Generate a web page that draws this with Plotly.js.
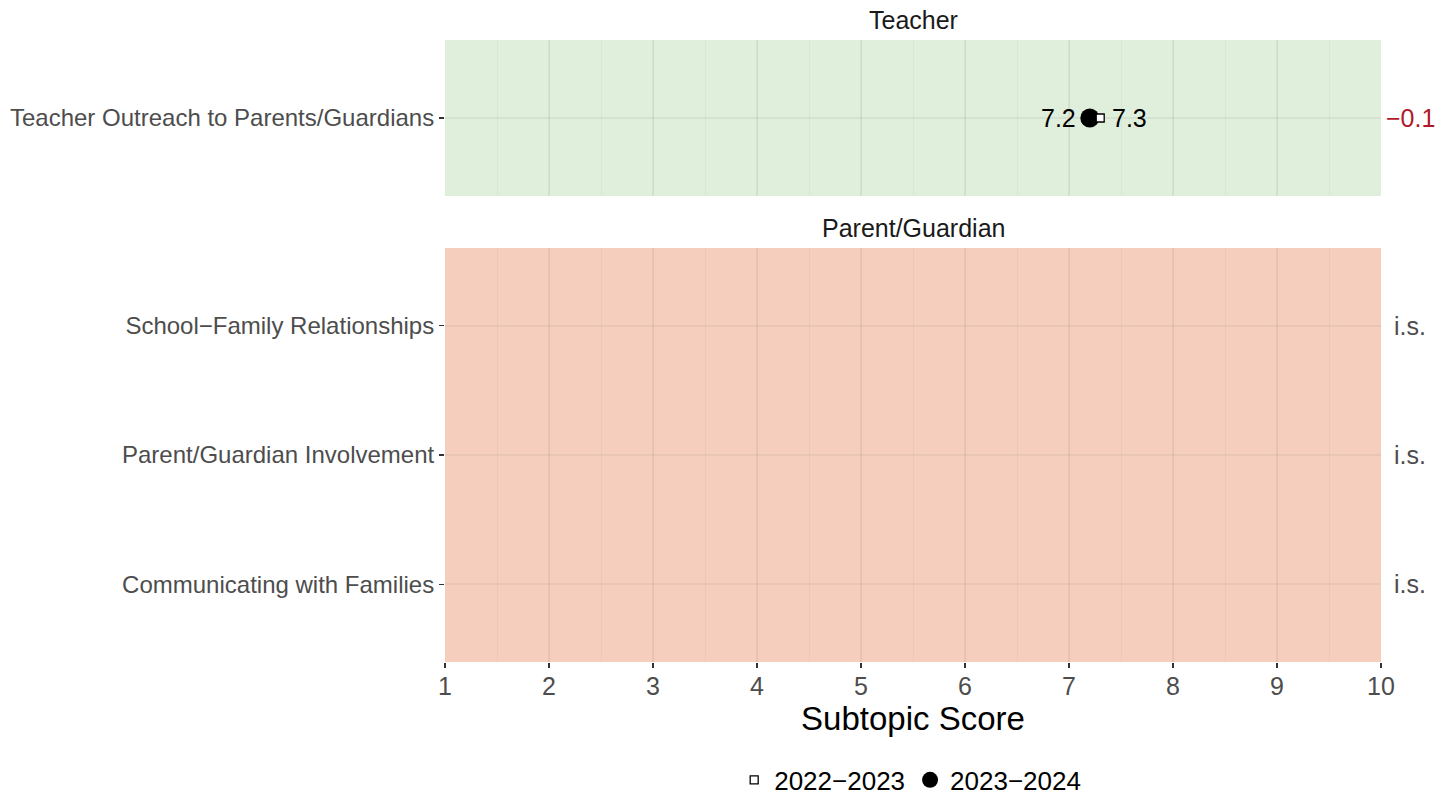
<!DOCTYPE html>
<html>
<head>
<meta charset="utf-8">
<script src="https://cdn.plot.ly/plotly-3.0.1.min.js"></script>
<style>html,body{margin:0;padding:0;background:#fff;}#chart{width:1450px;height:795px;}</style>
</head>
<body>
<div id="chart"></div>
<script>
// ---- data ----
const teacherCategories = ["Teacher Outreach to Parents/Guardians"];
const parentCategories = ["School\u2212Family Relationships", "Parent/Guardian Involvement", "Communicating with Families"];
const teacherScore2022 = [7.3];
const teacherScore2023 = [7.2];
const teacherChange = ["\u22120.1"];
const parentChange = ["i.s.", "i.s.", "i.s."];
const seriesNames = ["2022\u22122023", "2023\u22122024"];
const panelTitles = ["Teacher", "Parent/Guardian"];
const xTickVals = [1,2,3,4,5,6,7,8,9,10];

const FONT = "Liberation Sans, Arial, sans-serif";
const greenBg = "#E0EEDC";
const orangeBg = "#F5CEBD";

const traces = [
  {
    type: "scatter", mode: "markers", name: seriesNames[1],
    x: teacherScore2023, y: teacherCategories, xaxis: "x", yaxis: "y",
    marker: {symbol: "circle", size: 19, color: "#000000", line: {width: 0}},
    hoverinfo: "skip"
  },
  {
    type: "scatter", mode: "markers", name: seriesNames[0],
    x: teacherScore2022, y: teacherCategories, xaxis: "x", yaxis: "y",
    marker: {symbol: "square", size: 8, color: "#ffffff", line: {width: 1.3, color: "#000000"}},
    hoverinfo: "skip"
  },
  {
    type: "scatter", mode: "markers", showlegend: false,
    x: parentCategories.map(() => null), y: parentCategories, xaxis: "x", yaxis: "y2",
    marker: {opacity: 0}, hoverinfo: "skip"
  }
];

const annotations = [];
teacherCategories.forEach((c, i) => {
  annotations.push({x: teacherScore2023[i], y: c, xref: "x", yref: "y", text: teacherScore2023[i].toFixed(1),
    showarrow: false, xanchor: "right", xshift: -12, font: {family: FONT, size: 25, color: "#000"}});
  annotations.push({x: teacherScore2022[i], y: c, xref: "x", yref: "y", text: teacherScore2022[i].toFixed(1),
    showarrow: false, xanchor: "left", xshift: 10, font: {family: FONT, size: 25, color: "#000"}});
  annotations.push({x: 1.031, y: c, xref: "paper", yref: "y", text: teacherChange[i],
    showarrow: false, xanchor: "center", font: {family: FONT, size: 25, color: "#B2182B"}});
});
parentCategories.forEach((c, i) => {
  annotations.push({x: 1.031, y: c, xref: "paper", yref: "y2", text: parentChange[i],
    showarrow: false, xanchor: "center", font: {family: FONT, size: 25, color: "#4D4D4D"}});
});
annotations.push({x: 0.5, y: 1, xref: "paper", yref: "y domain", yanchor: "bottom", yshift: 4, text: panelTitles[0],
  showarrow: false, font: {family: FONT, size: 25, color: "#1A1A1A"}});
annotations.push({x: 0.5, y: 1, xref: "paper", yref: "y2 domain", yanchor: "bottom", yshift: 4, text: panelTitles[1],
  showarrow: false, font: {family: FONT, size: 25, color: "#1A1A1A"}});

const shapes = [
  {type: "rect", xref: "x", yref: "y domain", x0: 1, x1: 10, y0: 0, y1: 1, fillcolor: greenBg, line: {width: 0}, layer: "below"},
  {type: "rect", xref: "x", yref: "y2 domain", x0: 1, x1: 10, y0: 0, y1: 1, fillcolor: orangeBg, line: {width: 0}, layer: "below"}
];

const gridMajor = "rgba(120,110,100,0.09)";
const gridMinor = "rgba(120,110,100,0.055)";

const layout = {
  width: 1450, height: 795,
  margin: {l: 445, r: 69, t: 40, b: 133, autoexpand: false},
  paper_bgcolor: "#ffffff", plot_bgcolor: "rgba(0,0,0,0)",
  font: {family: FONT, color: "#4D4D4D"},
  showlegend: true,
  legend: {orientation: "h", x: 0.497, xanchor: "center", yref: "container", y: 0.019, yanchor: "middle",
    traceorder: "reversed", font: {family: FONT, size: 26, color: "#000"}, itemwidth: 30},
  xaxis: {
    anchor: "y2", range: [1, 10], tickvals: xTickVals, ticktext: xTickVals.map(String), automargin: false,
    showgrid: true, gridcolor: gridMajor, gridwidth: 2,
    minor: {dtick: 0.5, tick0: 1, showgrid: true, gridcolor: gridMinor, gridwidth: 1, ticks: ""},
    zeroline: false, showline: false,
    ticks: "outside", ticklen: 5, tickwidth: 1.5, tickcolor: "#333333", ticklabelstandoff: -3,
    tickfont: {family: FONT, size: 25, color: "#4D4D4D"},
    title: {text: "Subtopic Score", font: {family: FONT, size: 33, color: "#000"}, standoff: 2}
  },
  yaxis: {
    domain: [466/622, 1], type: "category", categoryarray: teacherCategories, automargin: false,
    range: [-0.6, 0.6], showgrid: true, gridcolor: gridMajor, gridwidth: 2, zeroline: false,
    ticks: "outside", ticklen: 5, tickwidth: 1.5, tickcolor: "#333333",
    tickfont: {family: FONT, size: 24, color: "#4D4D4D"}, anchor: "x"
  },
  yaxis2: {
    domain: [0, 414/622], type: "category", categoryarray: parentCategories, automargin: false,
    range: [2.6, -0.6], showgrid: true, gridcolor: gridMajor, gridwidth: 2, zeroline: false,
    ticks: "outside", ticklen: 5, tickwidth: 1.5, tickcolor: "#333333",
    tickfont: {family: FONT, size: 24, color: "#4D4D4D"}, anchor: "x"
  },
  shapes: shapes,
  annotations: annotations
};

Plotly.newPlot("chart", traces, layout, {displayModeBar: false, staticPlot: true});
</script>
</body>
</html>
